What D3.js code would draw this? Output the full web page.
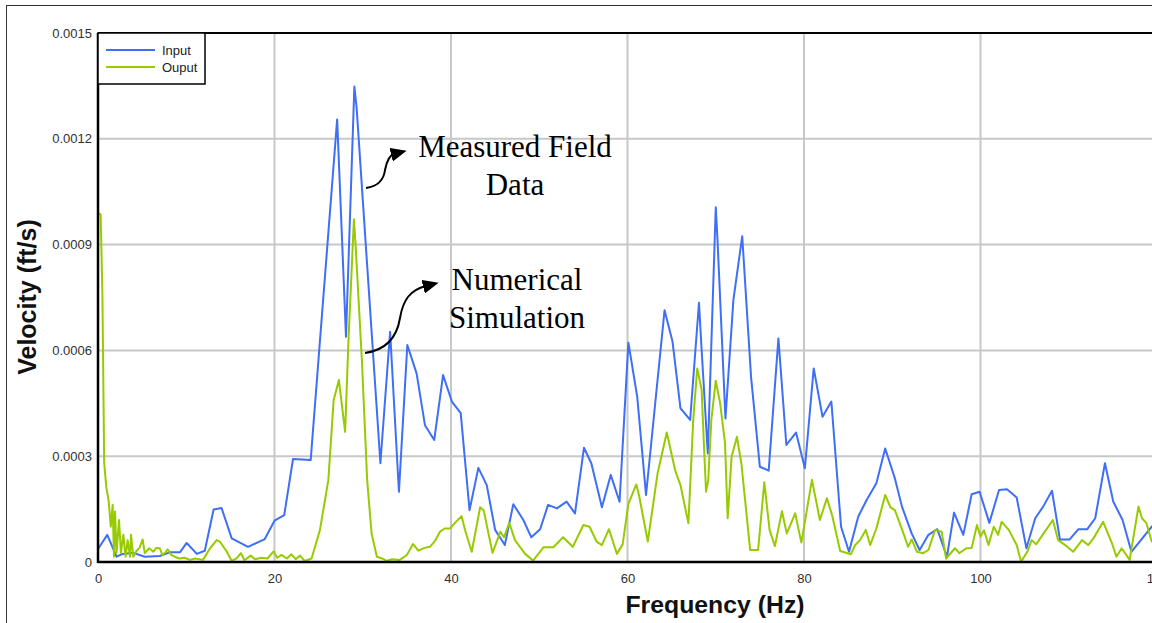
<!DOCTYPE html>
<html>
<head>
  <style>
    body { margin: 0; background: white; }
    svg { display: block; }
    .tick text { font-family: Arial, "Liberation Sans", sans-serif; font-size: 13px; fill: #303030; }
  </style>
</head>
<body>
  <div id="chart"></div>
  <script src="https://d3js.org/d3.v7.min.js"></script>
  <script>
    var width = 1152, height = 623;

    // frequencies (Hz) and velocities (ft/s)
    var inputFreq = [0, 1.05, 2.1, 2.8, 4.0, 5.3, 7.0, 8.2, 9.3, 10.05, 11.2, 12.1, 13.1, 14.0, 15.15, 17.0, 18.9, 20.0, 21.1, 22.1,
      24.1, 27.1, 28.1, 29.05, 29.3, 32.0, 33.1, 34.1, 35.05, 36.1, 37.05, 38.1, 39.1, 40.1, 41.1, 42.1, 43.1, 44.05, 45.0, 46.1,
      47.06, 48.2, 49.1, 50.1, 51.0, 52.0, 53.1, 54.05, 55.07, 55.9, 57.1, 58.1, 59.1, 60.1, 61.1, 62.1, 64.2, 65.1, 66.0, 67.1,
      68.1, 68.4, 69.1, 70.0, 70.2, 71.1, 72.0, 73.0, 74.0, 75.0, 76.0, 77.1, 78.0, 79.1, 80.1, 81.1, 82.1, 83.1, 84.2, 85.1,
      86.15, 87.1, 88.2, 89.2, 90.3, 91.1, 92.2, 93.1, 94.1, 95.1, 96.2, 97.0, 98.05, 99.0, 99.9, 101.0, 102.1, 103.0, 104.1, 105.2,
      106.2, 107.1, 108.1, 109.0, 110.1, 111.1, 112.1, 113.0, 114.1, 115.05, 116.1, 117.1, 119.4, 120];
    var inputVel = [0.000037, 0.000077, 0.000015, 0.000023, 0.000026, 0.000015, 0.000017, 0.000028, 0.000028, 0.000054, 0.000023, 0.000032, 0.000149, 0.000153, 0.000067, 0.000043, 0.000065, 0.000117, 0.000133, 0.000292,
      0.000289, 0.001255, 0.000639, 0.001348, 0.00129, 0.00028, 0.000653, 0.000199, 0.000615, 0.000535, 0.000388, 0.000346, 0.00053, 0.000455, 0.000422, 0.000147, 0.000267, 0.000218, 0.000091, 0.000048,
      0.000164, 0.000119, 0.00007, 0.000093, 0.000162, 0.000152, 0.000171, 0.000138, 0.000324, 0.00028, 0.000155, 0.000247, 0.000171, 0.000622, 0.000469, 0.00019, 0.000714, 0.000625, 0.000436, 0.000403,
      0.000735, 0.000601, 0.000308, 0.001006, 0.000913, 0.000407, 0.000743, 0.000924, 0.000525, 0.00027, 0.000259, 0.000634, 0.000332, 0.000367, 0.000266, 0.000549, 0.000412, 0.000455, 0.0001, 0.000029,
      0.000129, 0.000176, 0.000223, 0.000322, 0.000237, 0.000157, 0.000081, 0.000034, 0.000077, 0.000093, 0.000015, 0.00014, 0.000077, 0.000192, 0.000199, 0.000111, 0.000204, 0.000206, 0.000183, 0.000039,
      0.000124, 0.000157, 0.000202, 0.000064, 0.000064, 0.000093, 0.000093, 0.000124, 0.00028, 0.000171, 0.000119, 0.000029, 0.0001, 0.000115];

    var outputFreq = [0, 0.3, 0.5, 0.6, 0.7, 0.95, 1.2, 1.45, 1.66, 1.81, 1.93, 2.1, 2.38, 2.6, 2.87, 3.13, 3.36, 3.63, 3.74, 4.0, 4.38,
      4.7, 5.06, 5.3, 5.8, 6.27, 6.6, 7.0, 7.3, 7.6, 7.9, 8.3, 8.7, 9.2, 9.8, 10.4, 11.0, 11.9, 12.7, 13.45, 13.8,
      14.6, 15.15, 15.7, 16.2, 16.6, 17.3, 17.8, 18.5, 19.2, 19.9, 20.3, 20.8, 21.4, 21.9, 22.4, 22.9, 23.4, 24.2, 25.15, 26.1,
      26.7, 27.3, 28.0, 28.4, 29.0, 29.2, 29.9, 30.5, 31.0, 31.6, 32.2, 32.7, 33.3, 34.2, 35.0, 35.7, 36.3, 37.0, 37.6, 38.2,
      38.75, 39.3, 39.9, 40.6, 41.2, 41.6, 42.35, 43.3, 43.7, 44.7, 45.6, 46.0, 46.6, 47.25, 48.4, 49.3, 50.5, 51.6, 52.7, 53.8,
      55.0, 55.7, 56.5, 57.1, 57.9, 58.8, 59.45, 60.1, 61.0, 61.3, 62.3, 63.4, 64.45, 65.4, 66.0, 66.9, 67.45, 67.9, 68.4, 68.65,
      68.9, 69.15, 69.5, 70.0, 70.5, 71.05, 71.35, 71.8, 72.4, 72.9, 73.9, 74.8, 75.5, 76.1, 76.7, 77.5, 78.05, 79.0, 79.7, 80.9,
      81.8, 82.6, 83.2, 84.1, 85.3, 85.8, 86.35, 87.0, 87.5, 88.2, 89.2, 89.8, 90.3, 91.4, 91.8, 92.2, 92.8, 93.5, 94.1, 94.85,
      95.6, 96.1, 97.1, 97.6, 98.4, 99.0, 99.6, 100.0, 100.4, 100.9, 101.5, 102.0, 102.4, 103.2, 104.1, 104.6, 105.3, 105.8, 106.3, 106.9,
      108.2, 108.8, 109.6, 110.5, 111.5, 112.2, 112.8, 113.9, 114.9, 115.4, 116.0, 116.9, 117.9, 118.3, 118.8, 119.4, 120];
    var outputVel = [0.00099, 0.000985, 0.00076, 0.00052, 0.00028, 0.00021, 0.000175, 0.0001, 0.000162, 0.000015, 0.000143, 0.000026, 0.000119, 0.000026, 0.000077, 0.000015, 0.000062, 0.000015, 0.000077, 0.000015, 0.000032,
      0.00004, 0.000064, 0.000025, 0.000039, 0.000029, 0.00004, 0.000039, 0.00002, 0.000026, 0.000036, 0.00002, 0.000015, 0.00001, 0.000012, 0.000006, 0.00001, 0.000006, 0.000039, 0.000062, 0.000058,
      0.000029, 0.000003, 0.00001, 0.000025, 0.000005, 0.000018, 0.000008, 0.000012, 0.00001, 0.00003, 0.000012, 0.00002, 0.00001, 0.000022, 0.000008, 0.000018, 0.000003, 0.00001, 0.000091, 0.000232,
      0.000459, 0.000516, 0.000369, 0.000639, 0.000972, 0.000894, 0.000573, 0.000232, 0.000081, 0.000015, 0.00001, 0.000003, 0.000008, 0.000006, 0.00002, 0.000051, 0.000032, 0.00004, 0.000043, 0.00006,
      0.000086, 0.000095, 0.000095, 0.000115, 0.00013, 0.00009, 0.000029, 0.000155, 0.000147, 0.000026, 0.000086, 0.00007, 0.000111, 0.000062, 0.000023, 0.000004, 0.000042, 0.000042, 0.00007, 0.000043,
      0.000105, 0.0001, 0.000058, 0.000048, 0.000093, 0.000023, 0.00005, 0.000165, 0.00022, 0.00019, 0.000058, 0.00025, 0.000367, 0.00026, 0.000218, 0.00011, 0.000403, 0.000549, 0.000488, 0.000337,
      0.000199, 0.000232, 0.000403, 0.000514, 0.00045, 0.000337, 0.000124, 0.000299, 0.000355, 0.00028, 0.000034, 0.000034, 0.000226, 0.000091, 0.000045, 0.000144, 0.000081, 0.000138, 0.000055, 0.000233,
      0.000119, 0.000181, 0.000131, 0.000031, 0.000022, 0.000048, 0.000062, 0.000091, 0.000048, 0.000095, 0.00019, 0.000155, 0.000147, 0.000072, 0.000043, 0.000064, 0.000029, 0.000025, 0.000034, 0.000091,
      0.000086, 0.00001, 0.000039, 0.000025, 0.000039, 0.00004, 0.000105, 0.000072, 0.00009, 0.000048, 0.0001, 0.000077, 0.000114, 0.000091, 0.000048, 0.000001, 0.000029, 0.000062, 0.00005, 0.000072,
      0.000119, 0.000062, 0.000048, 0.000029, 0.000062, 0.000048, 0.000067, 0.000114, 0.000053, 0.000015, 0.000039, 0.000006, 0.000157, 0.000124, 0.00011, 0.000058, 0.00009];

    var yTicks = [0, 0.0003, 0.0006, 0.0009, 0.0012, 0.0015];
    var xTicks = [0, 20, 40, 60, 80, 100, 120];
    var seriesNames = ["Input", "Ouput"];
    var seriesColors = ["#3f6ef7", "#97cb00"];

    var margin = {left: 98, top: 33, right: -5, bottom: 61};
    var x = d3.scaleLinear().domain([0, 120]).range([margin.left, width - margin.right]);
    var y = d3.scaleLinear().domain([0, 0.0015]).range([height - margin.bottom, margin.top]);

    var svg = d3.select("#chart").append("svg")
        .attr("width", width).attr("height", height);

    svg.append("rect").attr("width", width).attr("height", height).attr("fill", "white");
    // outer frame
    svg.append("rect")
        .attr("x", 6.5).attr("y", 5.5).attr("width", 1300).attr("height", 800)
        .attr("fill", "none").attr("stroke", "#333").attr("stroke-width", 1);

    // grid
    svg.append("g").selectAll("line.v")
        .data(xTicks.filter(d => d > 0))
      .enter().append("line")
        .attr("x1", d => x(d)).attr("x2", d => x(d))
        .attr("y1", y(0)).attr("y2", y(0.0015))
        .attr("stroke", "#c8c8c8").attr("stroke-width", 2);
    svg.append("g").selectAll("line.h")
        .data(yTicks.filter(d => d > 0))
      .enter().append("line")
        .attr("x1", x(0)).attr("x2", width)
        .attr("y1", d => y(d)).attr("y2", d => y(d))
        .attr("stroke", "#c8c8c8").attr("stroke-width", 2);

    // axes
    var yAxis = svg.append("g")
        .attr("transform", "translate(" + (x(0) - 3) + ",0)")
        .call(d3.axisLeft(y).tickValues(yTicks).tickSize(0).tickPadding(3)
          .tickFormat(d => d === 0 ? "0" : d.toFixed(4)));
    yAxis.select(".domain").remove();

    var xAxis = svg.append("g")
        .attr("transform", "translate(0," + (y(0) + 9) + ")")
        .call(d3.axisBottom(x).tickValues(xTicks).tickSize(0).tickFormat(d3.format("d")));
    xAxis.select(".domain").remove();

    // lines
    var line = d3.line().x(d => x(d[0])).y(d => y(d[1]));
    var inputData = inputFreq.map((f, i) => [f, inputVel[i]]);
    var outputData = outputFreq.map((f, i) => [f, outputVel[i]]);

    svg.append("path").datum(inputData)
        .attr("d", line).attr("fill", "none")
        .attr("stroke", seriesColors[0]).attr("stroke-width", 2).attr("stroke-linejoin", "round");
    svg.append("path").datum(outputData)
        .attr("d", line).attr("fill", "none")
        .attr("stroke", seriesColors[1]).attr("stroke-width", 2).attr("stroke-linejoin", "round");

    // plot frame
    svg.append("line").attr("x1", x(0)).attr("x2", x(0)).attr("y1", y(0.0015)).attr("y2", y(0) + 1)
        .attr("stroke", "black").attr("stroke-width", 2.5);
    svg.append("line").attr("x1", x(0)).attr("x2", width).attr("y1", y(0.0015)).attr("y2", y(0.0015))
        .attr("stroke", "black").attr("stroke-width", 2);
    svg.append("line").attr("x1", x(0)).attr("x2", width).attr("y1", y(0)).attr("y2", y(0))
        .attr("stroke", "black").attr("stroke-width", 2.5);

    // legend
    var legend = svg.append("g").attr("transform", "translate(" + x(0) + "," + y(0.0015) + ")");
    legend.append("rect").attr("width", 107).attr("height", 51)
        .attr("fill", "white").attr("stroke", "black").attr("stroke-width", 1.5);
    seriesNames.forEach((name, i) => {
      legend.append("line").attr("x1", 8).attr("x2", 57)
          .attr("y1", 17 + i * 17).attr("y2", 17 + i * 17)
          .attr("stroke", seriesColors[i]).attr("stroke-width", 2);
      legend.append("text").attr("x", 64).attr("y", 17 + i * 17).attr("dy", "0.35em")
          .style("font-family", "Arial, 'Liberation Sans', sans-serif").style("font-size", "13px")
          .attr("fill", "#222").text(name);
    });

    // axis titles
    svg.append("text")
        .attr("transform", "translate(36,297) rotate(-90)")
        .attr("text-anchor", "middle")
        .style("font-family", "Arial, 'Liberation Sans', sans-serif").style("font-size", "25px").style("font-weight", "bold")
        .attr("fill", "#111").text("Velocity (ft/s)");
    svg.append("text")
        .attr("x", 715).attr("y", 613)
        .attr("text-anchor", "middle")
        .style("font-family", "Arial, 'Liberation Sans', sans-serif").style("font-size", "24.8px").style("font-weight", "bold")
        .attr("fill", "#111").text("Frequency (Hz)");

    // annotations
    var defs = svg.append("defs");
    defs.append("marker").attr("id", "arrow")
        .attr("markerUnits", "userSpaceOnUse")
        .attr("markerWidth", 18).attr("markerHeight", 16)
        .attr("refX", 3).attr("refY", 7).attr("orient", "auto")
      .append("path").attr("d", "M0,0 L16,7 L0,14 z").attr("fill", "black");

    var notes = [
      {lines: ["Measured Field", "Data"], cx: 515, y0: 157, path: "M366,188 C380,186 384,178 385,170 C387,160 390,155 394,154"},
      {lines: ["Numerical", "Simulation"], cx: 517, y0: 290, path: "M365,353 C386,350 397,337 400,318 C403,300 410,290 426,286"}
    ];
    notes.forEach(n => {
      svg.append("path").attr("d", n.path).attr("fill", "none")
          .attr("stroke", "black").attr("stroke-width", 2).attr("marker-end", "url(#arrow)");
      n.lines.forEach((t, i) => {
        svg.append("text").attr("x", n.cx).attr("y", n.y0 + i * 38)
            .attr("text-anchor", "middle")
            .style("font-family", "'Times New Roman', 'Liberation Serif', serif").style("font-size", "31px")
            .attr("fill", "black").text(t);
      });
    });
  </script>
</body>
</html>
